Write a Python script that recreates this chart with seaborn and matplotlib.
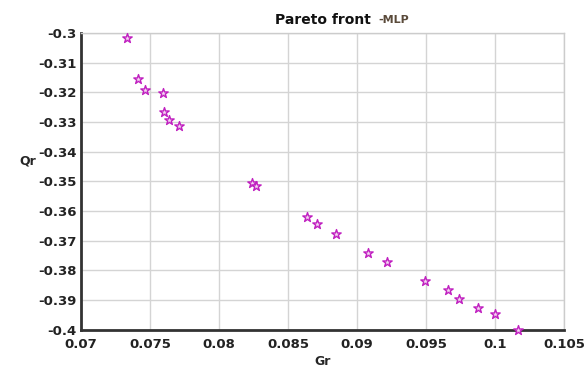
import matplotlib
matplotlib.use("Agg")
import matplotlib.pyplot as plt
import seaborn as sns
import pandas as pd

gr = [0.0733, 0.0741, 0.0746, 0.0759, 0.0760, 0.0764, 0.0771,
      0.0824, 0.0827, 0.0864, 0.0871, 0.0885, 0.0908, 0.0922,
      0.0949, 0.0966, 0.0974, 0.0988, 0.1000, 0.1017]
qr = [-0.3018, -0.3156, -0.3192, -0.3201, -0.3267, -0.3293, -0.3314,
      -0.3506, -0.3515, -0.3621, -0.3644, -0.3677, -0.3740, -0.3771,
      -0.3834, -0.3865, -0.3896, -0.3927, -0.3947, -0.4000]

xticks = [0.07, 0.075, 0.08, 0.085, 0.09, 0.095, 0.1, 0.105]
xlabels = ["0.07", "0.075", "0.08", "0.085", "0.09", "0.095", "0.1", "0.105"]
yticks = [-0.3, -0.31, -0.32, -0.33, -0.34, -0.35, -0.36, -0.37, -0.38, -0.39, -0.4]
ylabels = ["-0.3", "-0.31", "-0.32", "-0.33", "-0.34", "-0.35", "-0.36",
           "-0.37", "-0.38", "-0.39", "-0.4"]

df = pd.DataFrame({"Gr": gr, "Qr": qr})

sns.set_style("whitegrid")
plt.rcParams["font.family"] = ["DejaVu Sans"]

fig = plt.figure(figsize=(5.88, 3.69), dpi=100)
ax = fig.add_axes([0.138, 0.106, 0.821, 0.805])

sns.scatterplot(data=df, x="Gr", y="Qr", ax=ax, marker="*", s=50,
                facecolor="#f3d6f0", edgecolor="#c020c0", linewidth=1.0,
                clip_on=False, zorder=3)

ax.set_xlim(0.07, 0.105)
ax.set_ylim(-0.4, -0.3)
ax.set_xticks(xticks)
ax.set_xticklabels(xlabels)
ax.set_yticks(yticks)
ax.set_yticklabels(ylabels)
ax.grid(True, color="#d4d4d4", linewidth=1.0)

for side in ["top", "right"]:
    ax.spines[side].set_color("#cccccc")
    ax.spines[side].set_linewidth(1.0)
for side in ["left", "bottom"]:
    ax.spines[side].set_color("#333333")
    ax.spines[side].set_linewidth(2.0)

ax.tick_params(axis="both", labelsize=9.5, colors="#222222", length=3,
               direction="in", width=1.2)
ax.tick_params(axis="x", pad=6)
ax.tick_params(axis="y", pad=3)
for lab in ax.get_xticklabels() + ax.get_yticklabels():
    lab.set_fontweight("bold")

ax.set_xlabel("Gr", fontsize=9, fontweight="bold", labelpad=3)
ax.set_ylabel("Qr", fontsize=9, fontweight="bold", rotation=0, va="center")
ax.yaxis.set_label_coords(-0.11, 0.57)

fig.text(0.468, 0.945, "Pareto front", fontsize=10, fontweight="bold",
         ha="left", va="center", color="#111111")
fig.text(0.643, 0.945, "-MLP", fontsize=8, fontweight="bold",
         ha="left", va="center", color="#5a4a3a")

fig.savefig("out.png", dpi=100)
